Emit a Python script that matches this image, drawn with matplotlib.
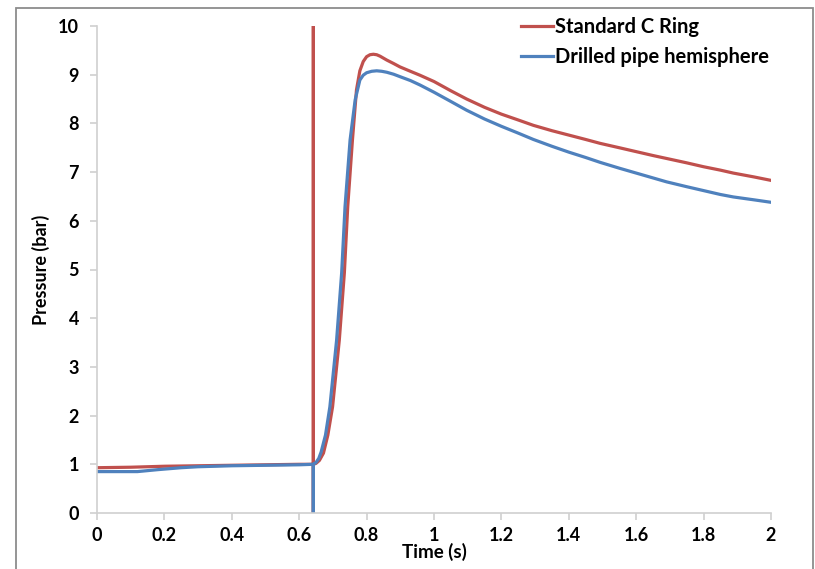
import matplotlib
matplotlib.use("Agg")
import matplotlib.pyplot as plt
from matplotlib.patches import Rectangle

# Data
red_t = [0.0, 0.1, 0.2, 0.3, 0.4, 0.5, 0.6, 0.642, 0.642, 0.642, 0.642,
         0.65, 0.66, 0.672, 0.685, 0.699, 0.719, 0.734, 0.744, 0.758, 0.77, 0.78,
         0.79, 0.80, 0.81, 0.82, 0.83, 0.84, 0.86, 0.88, 0.899, 0.93, 0.958, 1.0,
         1.05, 1.097, 1.15, 1.2, 1.25, 1.295, 1.35, 1.4, 1.45, 1.493, 1.55, 1.6,
         1.65, 1.69, 1.75, 1.8, 1.85, 1.888, 1.95, 2.0]
red_p = [0.93, 0.94, 0.96, 0.97, 0.98, 0.99, 1.0, 1.0, 10.0, 0.0, 1.0,
         1.02, 1.08, 1.23, 1.6, 2.18, 3.55, 4.93, 6.29, 7.66, 8.69, 9.08,
         9.27, 9.37, 9.41, 9.42, 9.41, 9.38, 9.30, 9.23, 9.16, 9.07, 8.99, 8.86,
         8.67, 8.50, 8.33, 8.19, 8.07, 7.96, 7.85, 7.76, 7.67, 7.59, 7.50, 7.42,
         7.34, 7.28, 7.19, 7.11, 7.04, 6.98, 6.90, 6.83]

blue_t = [0.0, 0.06, 0.12, 0.18, 0.25, 0.3, 0.4, 0.5, 0.6, 0.642, 0.642, 0.642,
          0.65, 0.658, 0.665, 0.678, 0.691, 0.711, 0.726, 0.736, 0.751, 0.766, 0.78,
          0.79, 0.80, 0.815, 0.83, 0.845, 0.86, 0.88, 0.899, 0.93, 0.958, 1.0,
          1.05, 1.097, 1.15, 1.2, 1.25, 1.295, 1.35, 1.4, 1.45, 1.493, 1.55,
          1.6, 1.65, 1.69, 1.75, 1.8, 1.85, 1.888, 1.95, 2.0]
blue_p = [0.85, 0.85, 0.85, 0.89, 0.93, 0.95, 0.97, 0.98, 0.99, 1.0, 0.0, 1.0,
          1.04, 1.12, 1.25, 1.6, 2.18, 3.55, 4.93, 6.29, 7.66, 8.48, 8.89,
          8.99, 9.04, 9.07, 9.08, 9.07, 9.05, 9.01, 8.96, 8.88, 8.79, 8.64,
          8.45, 8.27, 8.09, 7.94, 7.80, 7.67, 7.53, 7.41, 7.30, 7.20, 7.08,
          6.98, 6.88, 6.80, 6.70, 6.62, 6.54, 6.49, 6.43, 6.38]

series_names = ["Standard C Ring", "Drilled pipe hemisphere"]
x_ticks = [0, 0.2, 0.4, 0.6, 0.8, 1, 1.2, 1.4, 1.6, 1.8, 2]
x_tick_labels = ["0", "0.2", "0.4", "0.6", "0.8", "1", "1.2", "1.4", "1.6", "1.8", "2"]
y_ticks = list(range(0, 11))

plt.rcParams['font.family'] = ['Lato', 'DejaVu Sans']

W, H = 815, 569
fig = plt.figure(figsize=(W / 100, H / 100), dpi=100)
fig.patch.set_facecolor("white")
ax = fig.add_axes([97 / W, 1 - 513 / H, (771 - 97) / W, (513 - 26) / H])

red = "#C0504D"
blue = "#4F81BD"
ax.plot(red_t, red_p, color=red, lw=2.3, label=series_names[0], solid_joinstyle="round")
ax.plot(blue_t, blue_p, color=blue, lw=2.3, label=series_names[1], solid_joinstyle="round")

ax.set_xlim(0, 2)
ax.set_ylim(0, 10)
ax.set_xticks(x_ticks)
ax.set_xticklabels(x_tick_labels)
ax.set_yticks(y_ticks)

for s in ["top", "right"]:
    ax.spines[s].set_visible(False)
for s in ["left", "bottom"]:
    ax.spines[s].set_color("#D0D0D0")
    ax.spines[s].set_linewidth(1.2)
ax.tick_params(axis="both", direction="out", length=5, width=1.2, color="#D0D0D0",
               labelsize=13)
ax.tick_params(axis="y", pad=8)
ax.tick_params(axis="x", pad=5)
for lab in ax.get_xticklabels() + ax.get_yticklabels():
    lab.set_fontweight("bold")

ax.set_xlabel("Time (s)", fontsize=13.5, fontweight="bold", labelpad=-1)
ax.set_ylabel("Pressure (bar)", fontsize=13, fontweight="bold", labelpad=6)

leg = ax.legend(loc="upper right", bbox_to_anchor=(1.024, 1.055), frameon=False,
                prop={"weight": "bold", "size": 14.5}, handlelength=1.6,
                handletextpad=0.1, labelspacing=0.5)

# outer border
fig.patches.append(Rectangle((16 / W, -0.05), (813 - 16) / W, 1.05 - 8 / H,
                             transform=fig.transFigure, fill=False,
                             edgecolor="#8C8C8C", lw=1.3, clip_on=False))

fig.savefig("out.png", dpi=100)
